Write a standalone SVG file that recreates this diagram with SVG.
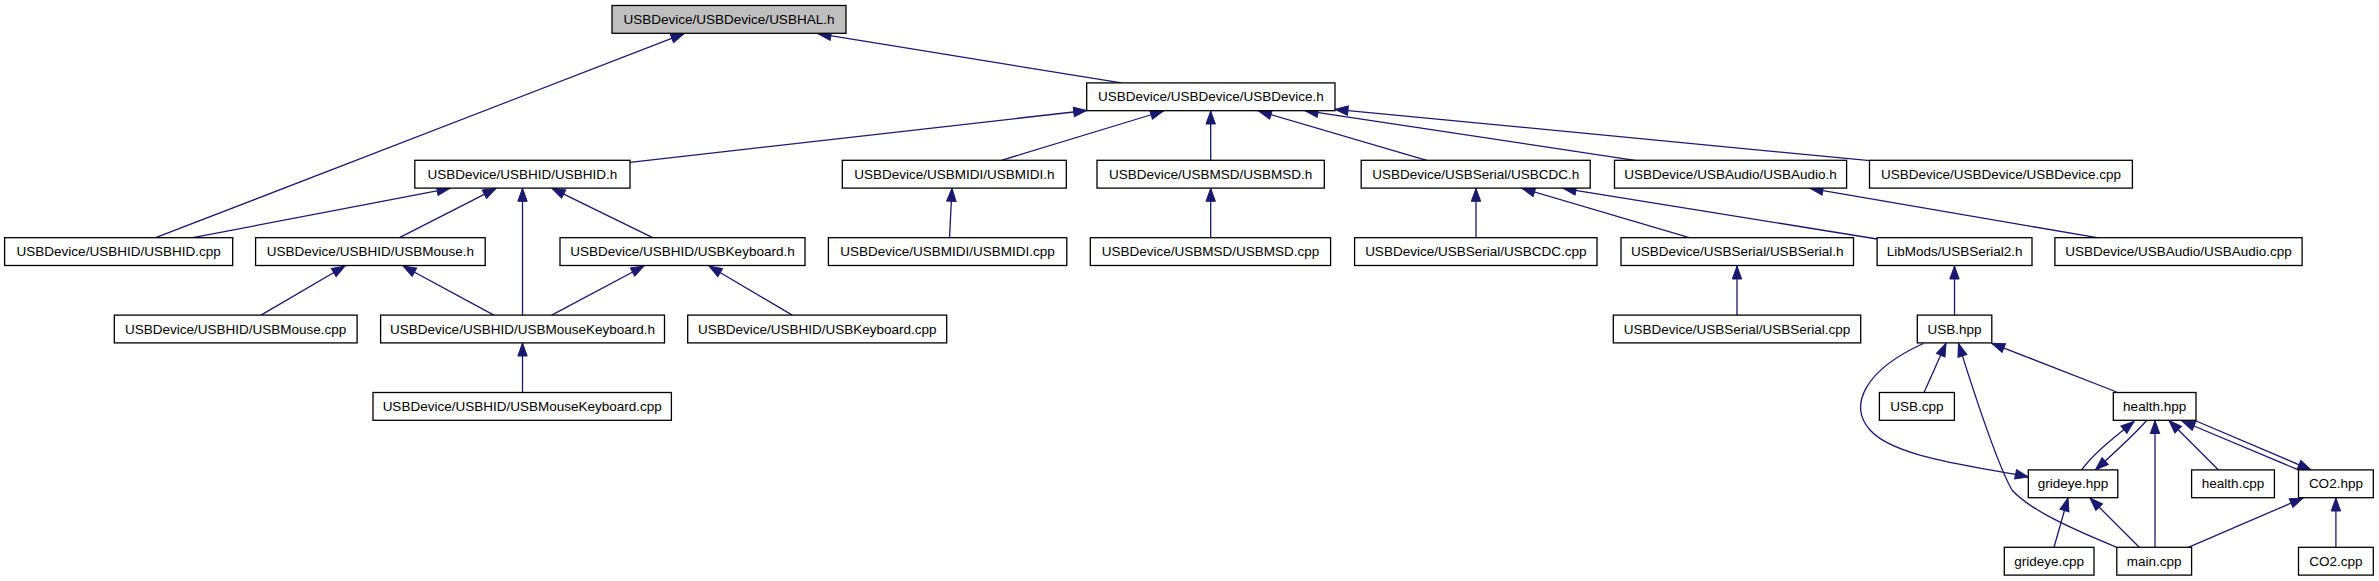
<svg xmlns="http://www.w3.org/2000/svg" width="2379" height="581" viewBox="0 0 2379 581">
<style>
.node rect{fill:#fff;stroke:#000;stroke-width:1.3}
.node.root rect{fill:#bfbfbf}
.node text{font-family:"Liberation Sans",Arial,sans-serif;font-size:13.5px;text-anchor:middle;fill:#000}
.edge{stroke:#191970;stroke-width:1.3;fill:none;marker-end:url(#arr)}
</style>
<defs>
<marker id="arr" viewBox="0 0 14 10" markerWidth="14" markerHeight="10" refX="13" refY="5" orient="auto" markerUnits="userSpaceOnUse" overflow="visible">
<path d="M0,0.3 L13,5 L0,9.7 z" fill="#191970" stroke="#191970" stroke-width="1"/>
</marker>
</defs>
<rect width="2379" height="581" fill="#fff"/>
<g id="connectors">
<path class="edge" d="M155.6,237.7 L684,33.7"/>
<path class="edge" d="M1121.4,82.9 L818,33.7"/>
<path class="edge" d="M630,162.3 L1086.7,110.5"/>
<path class="edge" d="M1001.5,160.3 L1163.5,111"/>
<path class="edge" d="M1210.7,160.3 L1210.7,111"/>
<path class="edge" d="M1426.7,160.3 L1258.5,111"/>
<path class="edge" d="M1635,160.3 L1305,110.7"/>
<path class="edge" d="M1870,160.7 L1335,109.3"/>
<path class="edge" d="M192.9,237.7 L450,188.3"/>
<path class="edge" d="M399.5,237.7 L496,188.3"/>
<path class="edge" d="M522.5,315.1 L522.5,188.3"/>
<path class="edge" d="M652.7,237.7 L552,188.3"/>
<path class="edge" d="M261,315.1 L345,266"/>
<path class="edge" d="M493.9,315.1 L403,266"/>
<path class="edge" d="M551.7,315.1 L644,266"/>
<path class="edge" d="M792.3,315.1 L709,266"/>
<path class="edge" d="M522.5,392.5 L522.5,343"/>
<path class="edge" d="M949.5,237.7 L952,188.3"/>
<path class="edge" d="M1210.7,237.7 L1210.7,188.3"/>
<path class="edge" d="M1476,237.7 L1476,188.3"/>
<path class="edge" d="M1689.3,237.7 L1522,188.3"/>
<path class="edge" d="M1877,239 L1563,188.3"/>
<path class="edge" d="M2097,237.7 L1810,188.3"/>
<path class="edge" d="M1737,315.1 L1737,266"/>
<path class="edge" d="M1954.5,315.1 L1954.5,266"/>
<path class="edge" d="M1924,392.5 L1946,343.3"/>
<path class="edge" d="M2116.7,392 L1991.7,343.3"/>
<path class="edge" d="M1923.3,343.5 C1865,370 1848,405 1870,430 C1895,458 1975,466 2028.3,477"/>
<path class="edge" d="M2116.7,547.3 C2070,528 2030,510 2012,490 C1995,460 1970,380 1958.5,343.5"/>
<path class="edge" d="M2081.5,470 C2095,452 2115,437 2134,421.5"/>
<path class="edge" d="M2146.7,420.5 C2132,437 2113,454 2095.5,469.8"/>
<path class="edge" d="M2155,547.3 L2155,420.5"/>
<path class="edge" d="M2218.3,469.8 L2169,420.5"/>
<path class="edge" d="M2298.3,469.8 L2182,421"/>
<path class="edge" d="M2195,420.5 L2311,469.8"/>
<path class="edge" d="M2054,547.3 L2068,498"/>
<path class="edge" d="M2139.3,547.3 L2090,498"/>
<path class="edge" d="M2188.3,547.3 L2303,498"/>
<path class="edge" d="M2335.9,547.3 L2335.9,498"/>
</g>
<g id="n0" class="node root"><rect x="612" y="5.5" width="234" height="27.8"/><text x="729" y="24">USBDevice/USBDevice/USBHAL.h</text></g>
<g id="n1" class="node"><rect x="1086.7" y="82.9" width="248.3" height="27.8"/><text x="1210.85" y="101.4">USBDevice/USBDevice/USBDevice.h</text></g>
<g id="n2" class="node"><rect x="414.8" y="160.3" width="215.2" height="27.8"/><text x="522.4" y="178.8">USBDevice/USBHID/USBHID.h</text></g>
<g id="n3" class="node"><rect x="842.3" y="160.3" width="224" height="27.8"/><text x="954.3" y="178.8">USBDevice/USBMIDI/USBMIDI.h</text></g>
<g id="n4" class="node"><rect x="1097" y="160.3" width="227.3" height="27.8"/><text x="1210.65" y="178.8">USBDevice/USBMSD/USBMSD.h</text></g>
<g id="n5" class="node"><rect x="1361.2" y="160.3" width="229" height="27.8"/><text x="1475.7" y="178.8">USBDevice/USBSerial/USBCDC.h</text></g>
<g id="n6" class="node"><rect x="1614.5" y="160.3" width="232.1" height="27.8"/><text x="1730.55" y="178.8">USBDevice/USBAudio/USBAudio.h</text></g>
<g id="n7" class="node"><rect x="1869.5" y="160.3" width="262.9" height="27.8"/><text x="2000.95" y="178.8">USBDevice/USBDevice/USBDevice.cpp</text></g>
<g id="n8" class="node"><rect x="4.6" y="237.7" width="228.1" height="27.8"/><text x="118.65" y="256.2">USBDevice/USBHID/USBHID.cpp</text></g>
<g id="n9" class="node"><rect x="255.6" y="237.7" width="229.6" height="27.8"/><text x="370.4" y="256.2">USBDevice/USBHID/USBMouse.h</text></g>
<g id="n10" class="node"><rect x="560" y="237.7" width="245" height="27.8"/><text x="682.5" y="256.2">USBDevice/USBHID/USBKeyboard.h</text></g>
<g id="n11" class="node"><rect x="828.4" y="237.7" width="238.4" height="27.8"/><text x="947.6" y="256.2">USBDevice/USBMIDI/USBMIDI.cpp</text></g>
<g id="n12" class="node"><rect x="1090.3" y="237.7" width="240.3" height="27.8"/><text x="1210.45" y="256.2">USBDevice/USBMSD/USBMSD.cpp</text></g>
<g id="n13" class="node"><rect x="1354.6" y="237.7" width="242.4" height="27.8"/><text x="1475.8" y="256.2">USBDevice/USBSerial/USBCDC.cpp</text></g>
<g id="n14" class="node"><rect x="1621" y="237.7" width="232.5" height="27.8"/><text x="1737.25" y="256.2">USBDevice/USBSerial/USBSerial.h</text></g>
<g id="n15" class="node"><rect x="1877.1" y="237.7" width="154.9" height="27.8"/><text x="1954.55" y="256.2">LibMods/USBSerial2.h</text></g>
<g id="n16" class="node"><rect x="2054.9" y="237.7" width="247.2" height="27.8"/><text x="2178.5" y="256.2">USBDevice/USBAudio/USBAudio.cpp</text></g>
<g id="n17" class="node"><rect x="114.3" y="315.1" width="242.8" height="27.8"/><text x="235.7" y="333.6">USBDevice/USBHID/USBMouse.cpp</text></g>
<g id="n18" class="node"><rect x="380.6" y="315.1" width="283.9" height="27.8"/><text x="522.55" y="333.6">USBDevice/USBHID/USBMouseKeyboard.h</text></g>
<g id="n19" class="node"><rect x="687.7" y="315.1" width="259" height="27.8"/><text x="817.2" y="333.6">USBDevice/USBHID/USBKeyboard.cpp</text></g>
<g id="n20" class="node"><rect x="1613.3" y="315.1" width="247.4" height="27.8"/><text x="1737" y="333.6">USBDevice/USBSerial/USBSerial.cpp</text></g>
<g id="n21" class="node"><rect x="1917.3" y="315.1" width="74.5" height="27.8"/><text x="1954.55" y="333.6">USB.hpp</text></g>
<g id="n22" class="node"><rect x="373" y="392.5" width="298.4" height="27.8"/><text x="522.2" y="411">USBDevice/USBHID/USBMouseKeyboard.cpp</text></g>
<g id="n23" class="node"><rect x="1879.4" y="392.5" width="75" height="27.8"/><text x="1916.9" y="411">USB.cpp</text></g>
<g id="n24" class="node"><rect x="2113.3" y="392.5" width="82.7" height="27.8"/><text x="2154.65" y="411">health.hpp</text></g>
<g id="n25" class="node"><rect x="2028.3" y="469.9" width="89.5" height="27.8"/><text x="2073.05" y="488.4">grideye.hpp</text></g>
<g id="n26" class="node"><rect x="2191.6" y="469.9" width="82.8" height="27.8"/><text x="2233" y="488.4">health.cpp</text></g>
<g id="n27" class="node"><rect x="2298.5" y="469.9" width="74.8" height="27.8"/><text x="2335.9" y="488.4">CO2.hpp</text></g>
<g id="n28" class="node"><rect x="2004.3" y="547.3" width="89.7" height="27.8"/><text x="2049.15" y="565.8">grideye.cpp</text></g>
<g id="n29" class="node"><rect x="2116.8" y="547.3" width="74.8" height="27.8"/><text x="2154.2" y="565.8">main.cpp</text></g>
<g id="n30" class="node"><rect x="2298.5" y="547.3" width="74.8" height="27.8"/><text x="2335.9" y="565.8">CO2.cpp</text></g>
</svg>
